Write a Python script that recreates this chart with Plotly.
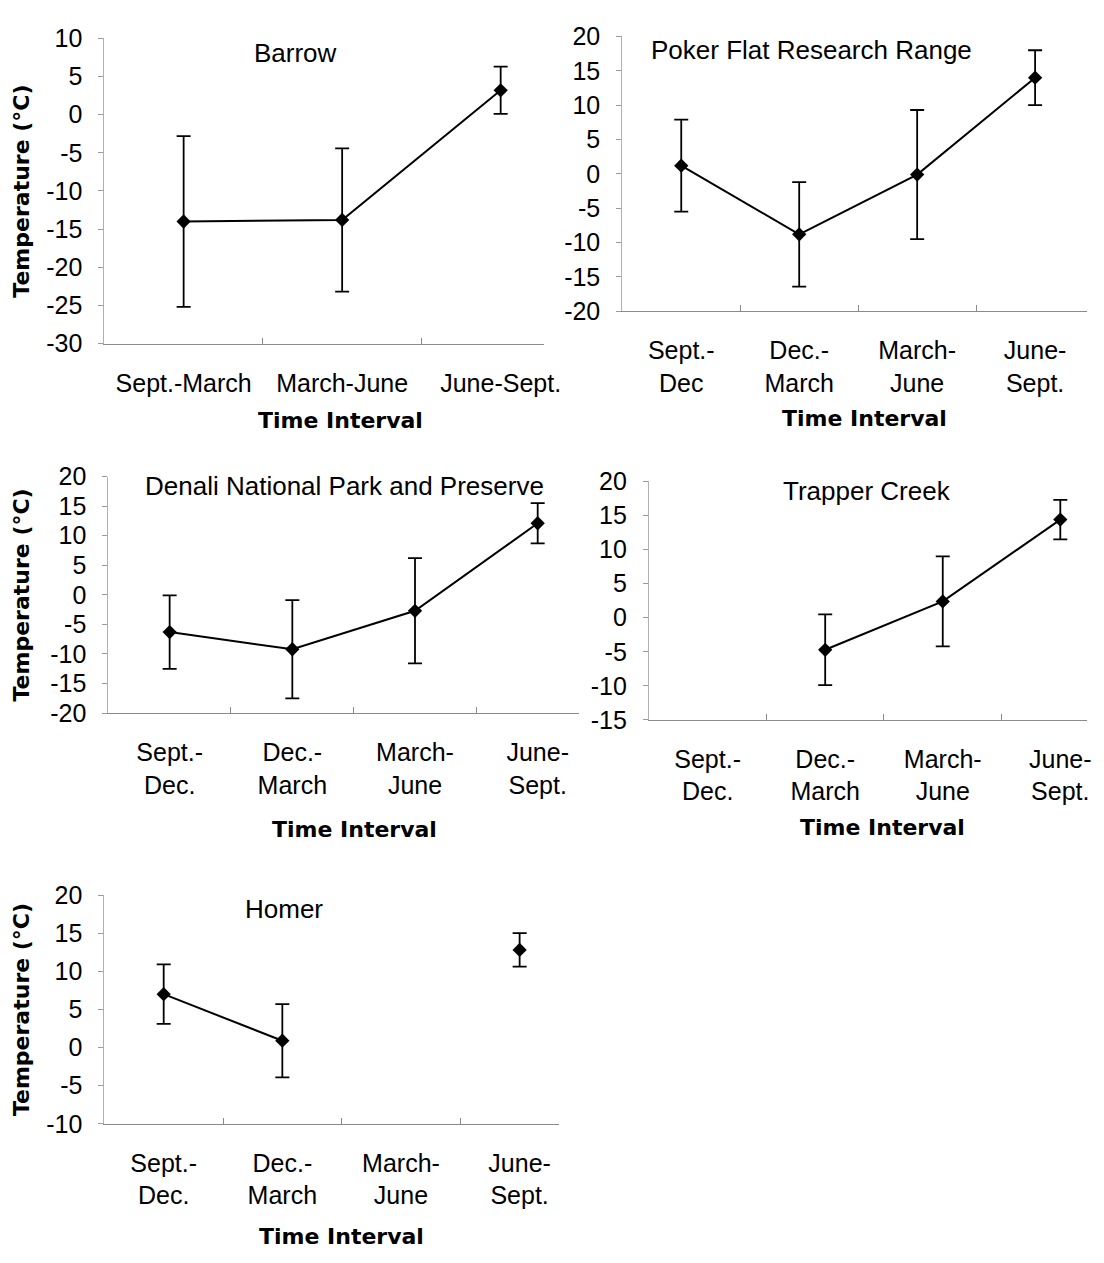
import plotly.graph_objects as go

# ---- data -----------------------------------------------------------------
barrow_cats = ["Sept.-March", "March-June", "June-Sept."]
barrow_mean = [-14.0, -13.8, 3.2]
barrow_err = [11.2, 9.4, 3.1]

poker_cats = ["Sept.-<br>Dec", "Dec.-<br>March", "March-<br>June", "June-<br>Sept."]
poker_mean = [1.2, -8.8, -0.1, 14.0]
poker_err = [6.7, 7.6, 9.4, 4.0]

season_cats = ["Sept.-<br>Dec.", "Dec.-<br>March", "March-<br>June", "June-<br>Sept."]

denali_mean = [-6.3, -9.2, -2.7, 12.1]
denali_err = [6.2, 8.3, 8.9, 3.4]

trapper_mean = [None, -4.7, 2.4, 14.4]
trapper_err = [None, 5.2, 6.6, 2.9]

homer_mean = [7.0, 0.9, None, 12.8]
homer_err = [3.9, 4.8, None, 2.2]

barrow_ticks = [10, 5, 0, -5, -10, -15, -20, -25, -30]
poker_ticks = [20, 15, 10, 5, 0, -5, -10, -15, -20]
denali_ticks = [20, 15, 10, 5, 0, -5, -10, -15, -20]
trapper_ticks = [20, 15, 10, 5, 0, -5, -10, -15]
homer_ticks = [20, 15, 10, 5, 0, -5, -10]

# ---- page geometry (pixels) ----------------------------------------------
W, H = 1104, 1263
FONT = "Liberation Sans, Arial, sans-serif"
BOLD_FONT = "DejaVu Sans, sans-serif"

def px_x(v):
    return v / W

def px_y(v):
    return 1 - v / H

# each panel: left, right, top, bottom of plot area, category pitch
panels = [
    dict(name="Barrow", cats=barrow_cats, mean=barrow_mean, err=barrow_err,
         ticks=barrow_ticks, box=(106, 552, 25, 337), pitch=161,
         title_xy=(300, 40), xt_xy=(346, 416), ytitle=True),
    dict(name="Poker Flat Research Range", cats=poker_cats, mean=poker_mean, err=poker_err,
         ticks=poker_ticks, box=(632, 1104, 23, 304), pitch=119.8,
         title_xy=(824, 37), xt_xy=(878, 414), ytitle=False),
    dict(name="Denali National Park and Preserve", cats=season_cats, mean=denali_mean,
         err=denali_err, ticks=denali_ticks, box=(110, 588, 473, 715), pitch=124.6,
         title_xy=(350, 483), xt_xy=(360, 834), ytitle=True),
    dict(name="Trapper Creek", cats=season_cats, mean=trapper_mean, err=trapper_err,
         ticks=trapper_ticks, box=(659, 1104, 478, 722), pitch=119.4,
         title_xy=(881, 488), xt_xy=(896, 832), ytitle=False),
    dict(name="Homer", cats=season_cats, mean=homer_mean, err=homer_err,
         ticks=homer_ticks, box=(106, 568, 901, 1135), pitch=120.5,
         title_xy=(288, 915), xt_xy=(347, 1250), ytitle=True),
]

fig = go.Figure()
annotations = []

for i, p in enumerate(panels, start=1):
    sfx = "" if i == 1 else str(i)
    left, right, top, bottom = p["box"]
    fig.add_trace(go.Scatter(
        x=p["cats"], y=p["mean"],
        xaxis="x" + sfx, yaxis="y" + sfx,
        mode="lines+markers",
        line=dict(color="black", width=2),
        marker=dict(symbol="diamond", size=11, color="black"),
        error_y=dict(type="data", array=p["err"], visible=True,
                     color="black", thickness=1.8, width=7),
        connectgaps=False,
        showlegend=False,
        hoverinfo="skip",
    ))
    xr = [-0.5, -0.5 + (right - left) / p["pitch"]]
    fig.layout["xaxis" + sfx] = dict(
        domain=[px_x(left), px_x(right)],
        anchor="y" + sfx,
        type="category",
        categoryorder="array", categoryarray=p["cats"],
        range=xr,
        showline=True, linecolor="#8a8a8a", linewidth=1,
        ticks="inside", tickson="boundaries", ticklen=6, tickcolor="#8a8a8a",
        tickfont=dict(family=FONT, size=25, color="black"),
        ticklabelstandoff=17,
        showgrid=False, zeroline=False, fixedrange=True,
    )
    lo, hi = min(p["ticks"]), max(p["ticks"])
    fig.layout["yaxis" + sfx] = dict(
        domain=[px_y(bottom), px_y(top)],
        anchor="x" + sfx,
        range=[lo, hi],
        tickvals=p["ticks"], ticktext=[str(t) for t in p["ticks"]],
        showline=True, linecolor="#b0b0b0", linewidth=1,
        ticks="outside", ticklen=5, tickcolor="#9a9a9a",
        tickfont=dict(family=FONT, size=25, color="black"),
        ticklabelstandoff=11,
        showgrid=False, zeroline=False, fixedrange=True,
    )
    tx, ty = p["title_xy"]
    annotations.append(dict(
        text=p["name"], x=px_x(tx), y=px_y(ty), xref="paper", yref="paper",
        showarrow=False, xanchor="center", yanchor="middle",
        font=dict(family=FONT, size=26, color="black"),
    ))
    ax, ay = p["xt_xy"]
    annotations.append(dict(
        text="Time Interval", x=px_x(ax), y=px_y(ay), xref="paper", yref="paper",
        showarrow=False, xanchor="center", yanchor="middle",
        font=dict(family=BOLD_FONT, size=22, color="black", weight="bold"),
    ))
    if p["ytitle"]:
        annotations.append(dict(
            text="Temperature (°C)", x=px_x(22), y=px_y((top + bottom) / 2),
            xref="paper", yref="paper", textangle=-90,
            showarrow=False, xanchor="center", yanchor="middle",
            font=dict(family=BOLD_FONT, size=22, color="black", weight="bold"),
        ))

fig.update_layout(
    width=W, height=H,
    margin=dict(l=0, r=0, t=0, b=0),
    paper_bgcolor="white", plot_bgcolor="white",
    annotations=annotations,
)

fig.write_html("out.html", config={"displayModeBar": False})
